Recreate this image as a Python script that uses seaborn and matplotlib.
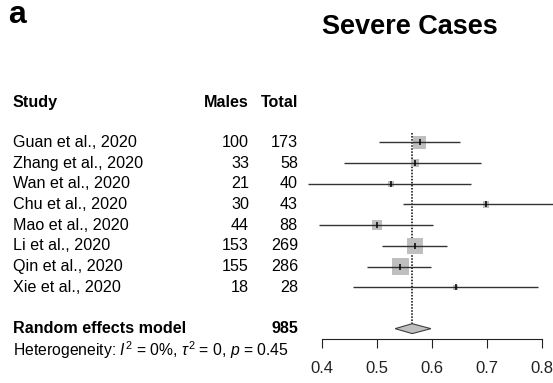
import matplotlib
matplotlib.use("Agg")
import matplotlib.pyplot as plt
import matplotlib.transforms as mtransforms
import seaborn as sns
import pandas as pd

# ---- data ----
studies = ["Guan et al., 2020", "Zhang et al., 2020", "Wan et al., 2020", "Chu et al., 2020",
           "Mao et al., 2020", "Li et al., 2020", "Qin et al., 2020", "Xie et al., 2020"]
males = [100, 33, 21, 30, 44, 153, 155, 18]
totals = [173, 58, 40, 43, 88, 269, 286, 28]
props = [0.578, 0.569, 0.525, 0.698, 0.500, 0.569, 0.542, 0.643]
ci_low = [0.503, 0.440, 0.374, 0.547, 0.395, 0.509, 0.482, 0.456]
ci_high = [0.650, 0.689, 0.671, 0.828, 0.602, 0.627, 0.599, 0.793]
pooled = 0.564
pooled_low = 0.533
pooled_high = 0.598
pooled_total = 985
xticks = [0.4, 0.5, 0.6, 0.7, 0.8]
het_text = r"Heterogeneity: $I^2$ = 0%, $\tau^2$ = 0, $p$ = 0.45"

df = pd.DataFrame({"study": studies, "males": males, "total": totals,
                   "prop": props, "lo": ci_low, "hi": ci_high,
                   "row": list(range(len(studies)))})

sns.set_style("white")
plt.rcParams["font.family"] = ["Liberation Sans", "DejaVu Sans"]
plt.rcParams["text.color"] = "black"
plt.rcParams["mathtext.fontset"] = "custom"
plt.rcParams["mathtext.rm"] = "Liberation Sans"
plt.rcParams["mathtext.it"] = "Liberation Sans:italic"
plt.rcParams["mathtext.bf"] = "Liberation Sans:bold"

W, H = 553, 383
fig = plt.figure(figsize=(W / 100, H / 100), dpi=100)
ax = fig.add_axes([300 / W, (H - 339) / H, (W - 300) / W, (339 - 121.6) / H])

# squares (area proportional to total)
k = 0.5184
sns.scatterplot(data=df, x="prop", y="row", size="total",
                sizes=(k * min(totals), k * max(totals)),
                size_norm=(min(totals), max(totals)),
                marker="s", color="#bfbfbf", edgecolor="none", linewidth=0,
                legend=False, ax=ax, zorder=1)
# confidence intervals
ax.hlines(df["row"], df["lo"], df["hi"], color="#333333", linewidth=1.0, zorder=2)
# centre ticks
ax.scatter(df["prop"], df["row"], marker="|", s=16, color="black", linewidths=1.1, zorder=3)

# pooled diamond
prow = len(studies) + 1
dh = 0.24
ax.fill([pooled_low, pooled, pooled_high, pooled],
        [prow, prow - dh, prow, prow + dh],
        facecolor="#c0c0c0", edgecolor="#404040", linewidth=0.8, zorder=3)
# reference dotted line
ax.vlines(pooled, -0.45, prow - dh, colors="black", linestyles=(0, (1, 1)),
          linewidth=1.1, zorder=0)

ax.set_xlim(0.36, 0.82)
ax.set_ylim(9.5, -1)
ax.set_xticks(xticks)
ax.set_xticklabels([f"{t:.1f}" for t in xticks])
ax.set_yticks([])
ax.set_xlabel("")
ax.set_ylabel("")
for s in ["left", "right", "top"]:
    ax.spines[s].set_visible(False)
ax.spines["bottom"].set_bounds(0.4, 0.8)
ax.spines["bottom"].set_color("#222222")
ax.spines["bottom"].set_linewidth(0.8)
ax.tick_params(axis="x", direction="out", length=6.5, width=0.8, color="#222222",
               labelsize=12, pad=9, bottom=True, labelcolor="#222222")

# text columns
tr = mtransforms.blended_transform_factory(fig.transFigure, ax.transData)
fs = 11.6
x_study = 13 / W
x_males = 249 / W
x_total = 298 / W
ax.text(x_study, -1.9, "Study", transform=tr, ha="left", va="center",
        fontsize=fs, fontweight="bold")
ax.text(x_males, -1.9, "Males", transform=tr, ha="right", va="center",
        fontsize=fs, fontweight="bold")
ax.text(x_total, -1.9, "Total", transform=tr, ha="right", va="center",
        fontsize=fs, fontweight="bold")
for i, r in df.iterrows():
    ax.text(x_study, r["row"], r["study"], transform=tr, ha="left", va="center", fontsize=fs)
    ax.text(x_males, r["row"], str(r["males"]), transform=tr, ha="right", va="center", fontsize=fs)
    ax.text(x_total, r["row"], str(r["total"]), transform=tr, ha="right", va="center", fontsize=fs)
ax.text(x_study, prow, "Random effects model", transform=tr, ha="left", va="center",
        fontsize=fs, fontweight="bold")
ax.text(x_total, prow, str(pooled_total), transform=tr, ha="right", va="center",
        fontsize=fs, fontweight="bold")
ax.text(x_study, prow + 1.05, het_text, transform=tr, ha="left", va="center", fontsize=11.3)

fig.text(409.5 / W, 1 - 27 / H, "Severe Cases", ha="center", va="center",
         fontsize=19.5, fontweight="bold")
fig.text(8 / W, 1 - 15 / H, "a", ha="left", va="center", fontsize=23, fontweight="bold")

fig.savefig("out.png", dpi=100)
